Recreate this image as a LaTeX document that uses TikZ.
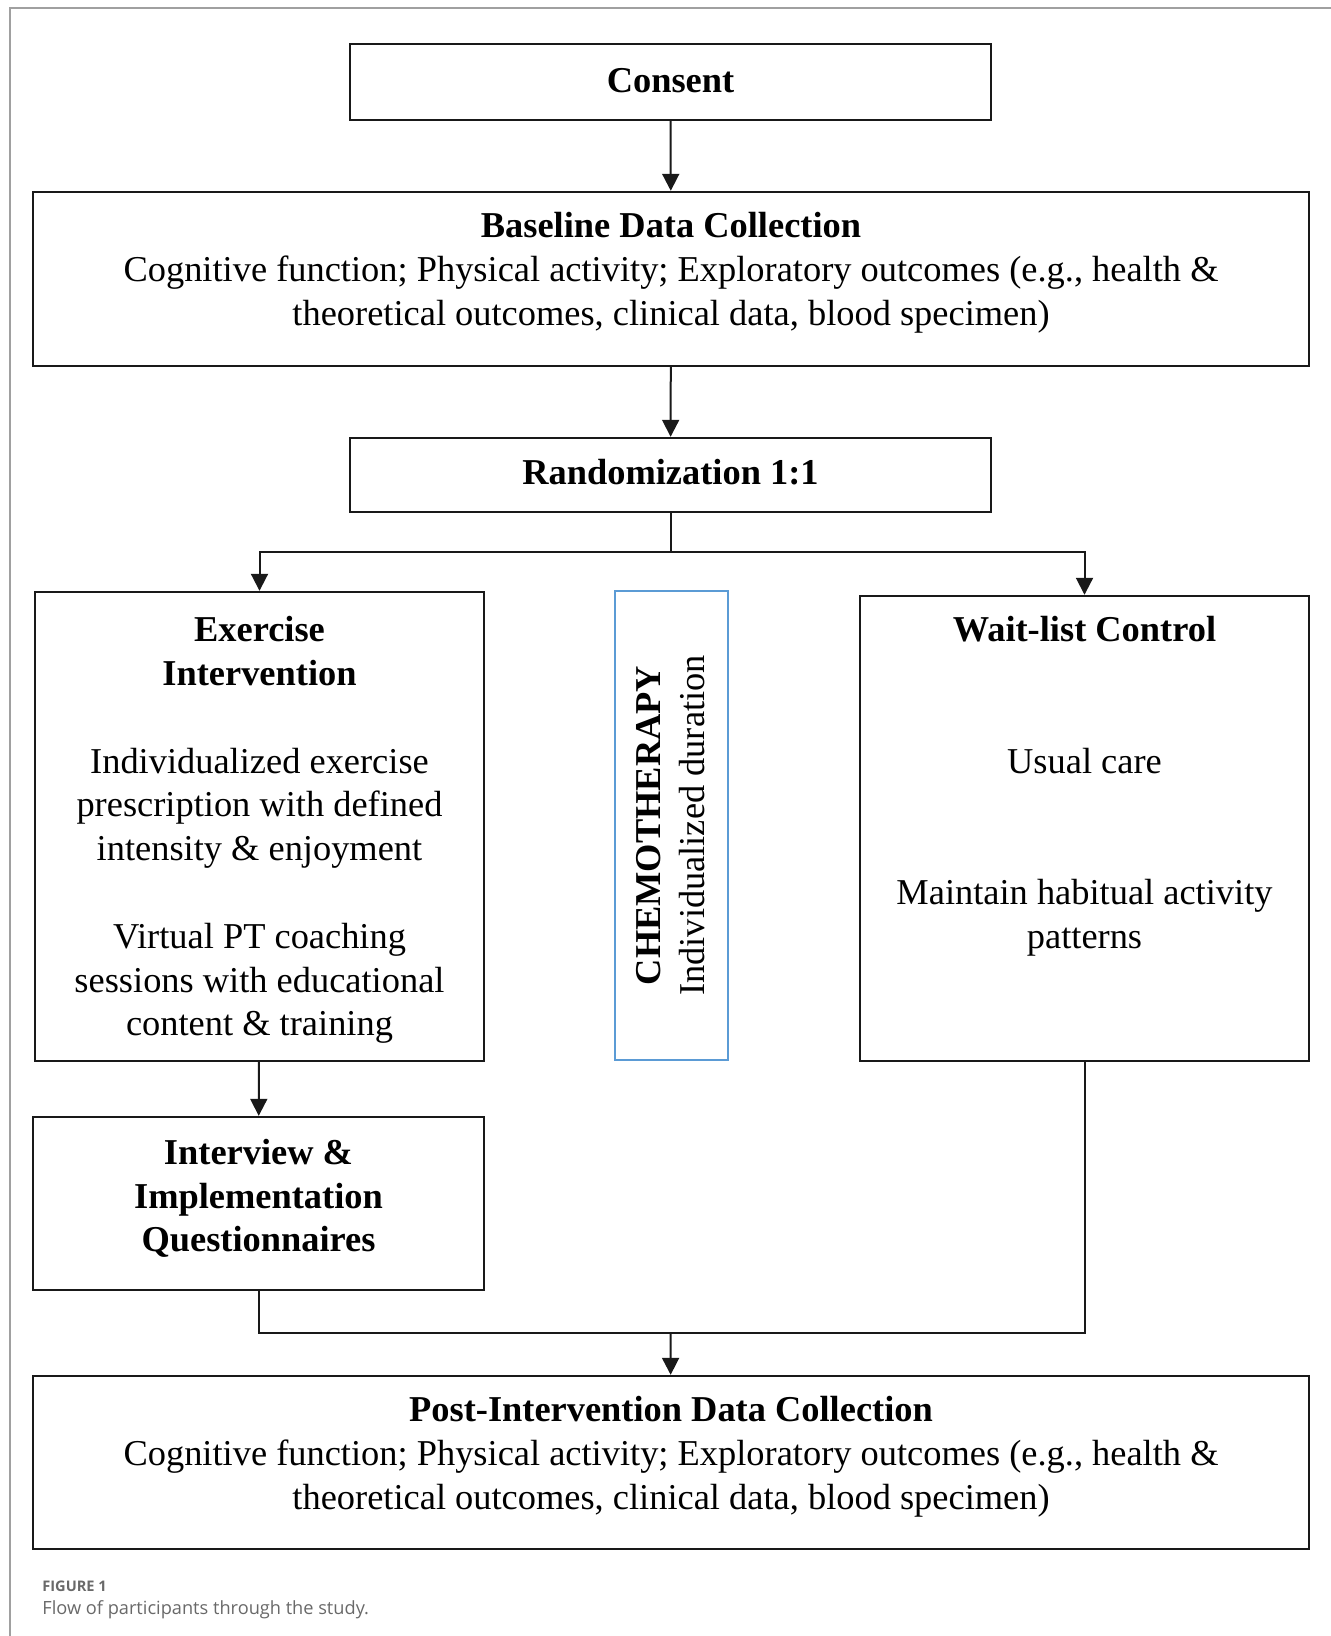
\documentclass[tikz,border=0pt]{standalone}
\usepackage{fontspec}
\setmainfont{Liberation Serif}
\newfontfamily\capfont{Open Sans}
\usetikzlibrary{arrows.meta}
\definecolor{chemoblue}{RGB}{91,155,213}
\definecolor{framegray}{RGB}{160,160,160}
\definecolor{capgray}{RGB}{105,105,105}

\begin{document}
\begin{tikzpicture}[x=0.5pt, y=-0.5pt,
	font = \fontsize{18.2}{21.9}\selectfont,
	box/.style = {draw = black!90, line width = 1.2pt, inner sep = 0pt},
	txt/.style = {align = center, inner sep = 0pt},
	arr/.style = {draw = black!90, line width = 1pt, -{Triangle[length=8.5pt, width=8.5pt]}},
	lnk/.style = {draw = black!90, line width = 1pt},
	captxt/.style = {anchor = west, inner sep = 0pt, text = capgray}]

	\useasboundingbox (0,0) rectangle (1331,1636);
	\draw[framegray, line width = 0.9pt] (10,1636) -- (10,8) -- (1331,8);

	\node[box, text depth = 2pt, minimum width = 320.5pt, minimum height = 38pt] (consent) at (670.5,82) {\textbf{Consent}};
	\node[box, minimum width = 638pt, minimum height = 87pt] (base) at (671,279) {};
	\node[txt] (basetxt) at (671,273) {\textbf{Baseline Data Collection}\\
		Cognitive function; Physical activity; Exploratory outcomes (e.g., health \&\\
		theoretical outcomes, clinical data, blood specimen)};
	\node[box, text depth = 3pt, minimum width = 320.5pt, minimum height = 37pt] (rand) at (670.5,475) {\textbf{Randomization 1:1}};

	\node[box, minimum width = 224.5pt, minimum height = 234.5pt] (exer) at (259.5,826.5) {};
	\node[txt] (exertxt) at (259.5,830) {\textbf{Exercise}\\ \textbf{Intervention}\\[21.9pt]
		Individualized exercise\\ prescription with defined\\ intensity \& enjoyment\\[21.9pt]
		Virtual PT coaching\\ sessions with educational\\ content \& training};

	\node[box, draw = chemoblue, line width = 1.3pt, minimum width = 56.5pt, minimum height = 234.5pt] (chemo) at (671.5,825.5) {};
	\node[txt, rotate = 90] (chemotxt) at (670.5,825.5) {\textbf{CHEMOTHERAPY}\\ Individualized duration};

	\node[box, minimum width = 224.5pt, minimum height = 232.5pt] (wait) at (1084.5,828.5) {};
	\node[txt, anchor = north] (waittxt) at (wait.center |- exertxt.north) {\textbf{Wait-list Control}\\[43.8pt]
		Usual care\\[43.8pt]
		Maintain habitual activity\\ patterns};

	\node[box, minimum width = 225.5pt, minimum height = 86.5pt] (intv) at (258.5,1203.5) {};
	\node[txt] (intvtxt) at (258.5,1198.5) {\textbf{Interview \&}\\ \textbf{Implementation}\\ \textbf{Questionnaires}};

	\node[box, minimum width = 638pt, minimum height = 86.5pt] (post) at (671,1462.5) {};
	\node[txt] (posttxt) at (671,1457) {\textbf{Post-Intervention Data Collection}\\
		Cognitive function; Physical activity; Exploratory outcomes (e.g., health \&\\
		theoretical outcomes, clinical data, blood specimen)};

	\coordinate (split) at (670.5,552);
	\coordinate (merge) at (670.5,1333);

	\draw[arr] (consent) -- (base);
	\draw[arr] (base) -- (rand);
	\draw[lnk] (rand) -- (split);
	\draw[arr] (split) -| (exer.north);
	\draw[arr] (split) -| (wait.north);
	\draw[arr] (exer) -- (intv);
	\draw[lnk] (intv.south) |- (wait.south |- merge) -- (wait.south);
	\draw[arr] (merge) -- (post);

	\node[captxt, font = \capfont\bfseries\fontsize{7.3}{9}\selectfont] (fignum) at (42,1586) {FIGURE 1};
	\node[captxt, font = \capfont\fontsize{9.1}{11}\selectfont] (figcap) at (42,1610) {Flow of participants through the study.};

\end{tikzpicture}
\end{document}
